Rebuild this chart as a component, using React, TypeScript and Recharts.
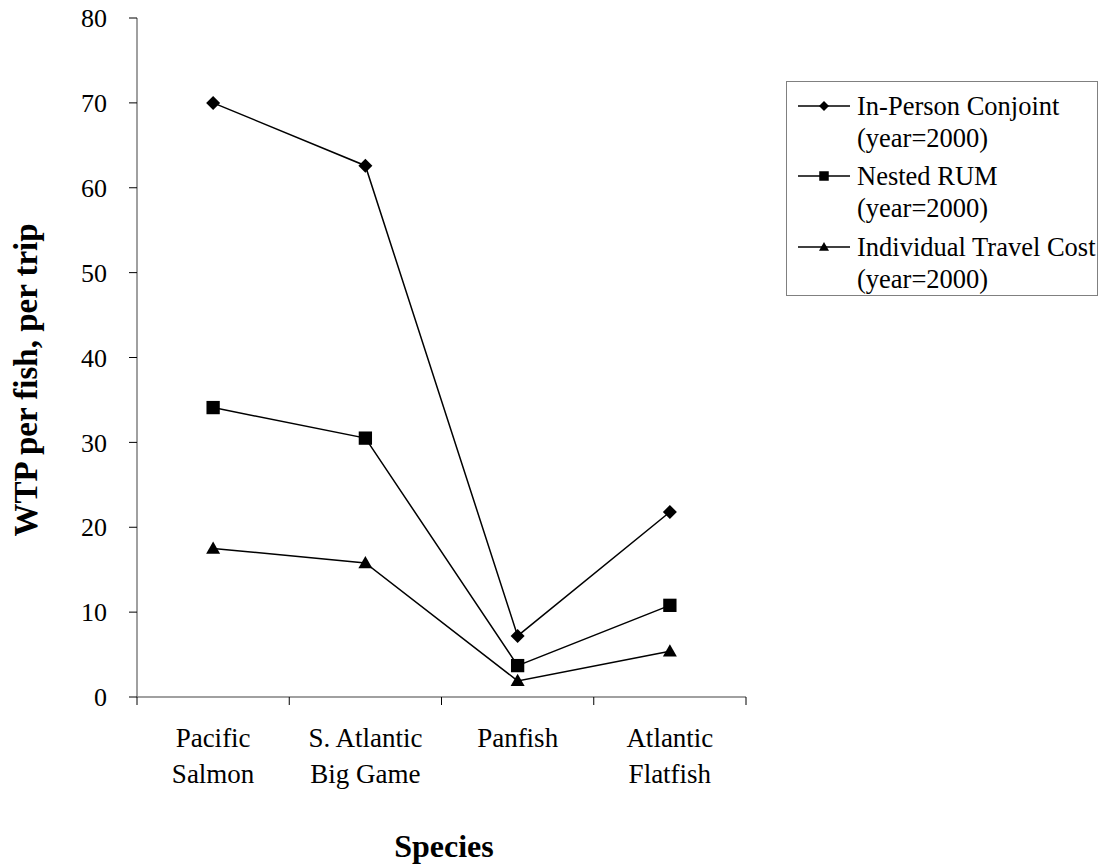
import React from 'react';
import { LineChart, Line, XAxis, YAxis, Legend } from 'recharts';

const categories = ['Pacific\nSalmon', 'S. Atlantic\nBig Game', 'Panfish', 'Atlantic\nFlatfish'];
const inPerson = [70.0, 62.6, 7.2, 21.8];
const nestedRum = [34.1, 30.5, 3.7, 10.8];
const travelCost = [17.5, 15.8, 1.9, 5.4];
const yTicks = [0, 10, 20, 30, 40, 50, 60, 70, 80];
const xTicks = [0, 0.5, 1, 1.5, 2, 2.5, 3, 3.5, 4];

const seriesNames = ['In-Person Conjoint', 'Nested RUM', 'Individual Travel Cost'];
const seriesNotes = ['(year=2000)', '(year=2000)', '(year=2000)'];
const markers = ['diamond', 'square', 'triangle'];

const FONT = '"Liberation Serif", "Times New Roman", serif';

const chartData = categories.map((name, i) => ({
  x: i + 0.5,
  name,
  inPerson: inPerson[i],
  nestedRum: nestedRum[i],
  travelCost: travelCost[i],
}));

function markerShape(kind: string, cx: number, cy: number, r: number) {
  if (kind === 'diamond') {
    return <polygon points={`${cx},${cy - r} ${cx + r},${cy} ${cx},${cy + r} ${cx - r},${cy}`} fill="#000" />;
  }
  if (kind === 'square') {
    return <rect x={cx - r * 0.95} y={cy - r * 0.95} width={r * 1.9} height={r * 1.9} fill="#000" />;
  }
  return <polygon points={`${cx},${cy - r} ${cx + r},${cy + r * 0.75} ${cx - r},${cy + r * 0.75}`} fill="#000" />;
}

const makeDot = (kind: string) => (props: any) => {
  const { cx, cy, index } = props;
  return <g key={`${kind}-${index}`}>{markerShape(kind, cx, cy, 7)}</g>;
};

function XTick(props: any) {
  const { x, y, payload } = props;
  const v = payload.value;
  if (Number.isInteger(v)) {
    return <line x1={x} y1={y} x2={x} y2={y + 8} stroke="#000" strokeWidth={1} />;
  }
  const lines = categories[Math.floor(v)].split('\n');
  return (
    <text x={x} y={y + 50} textAnchor="middle" fontFamily={FONT} fontSize={27} fill="#000">
      {lines.map((l, i) => (
        <tspan key={i} x={x} dy={i === 0 ? 0 : 36}>
          {l}
        </tspan>
      ))}
    </text>
  );
}

function renderLegend() {
  const baselines = [32, 102, 173];
  return (
    <div
      style={{
        position: 'relative',
        width: 312,
        height: 215,
        boxSizing: 'border-box',
        border: '1px solid #808080',
        background: '#fff',
        fontFamily: FONT,
        fontSize: 26.5,
        color: '#000',
      }}
    >
      {seriesNames.map((name, i) => (
        <React.Fragment key={name}>
          <svg
            width={54}
            height={14}
            style={{ position: 'absolute', left: 11, top: baselines[i] - 15 }}
          >
            <line x1={0} y1={7} x2={52} y2={7} stroke="#000" strokeWidth={1.5} />
            {markerShape(markers[i], 26, 7, 5)}
          </svg>
          <div style={{ position: 'absolute', left: 70, top: baselines[i] - 23, lineHeight: '30px', whiteSpace: 'nowrap' }}>
            {name}
          </div>
          <div style={{ position: 'absolute', left: 70, top: baselines[i] + 9, lineHeight: '30px', whiteSpace: 'nowrap' }}>
            {seriesNotes[i]}
          </div>
        </React.Fragment>
      ))}
    </div>
  );
}

export default function App() {
  return (
    <div style={{ position: 'absolute', left: 0, top: 0, width: 1098, height: 867, background: '#fff' }}>
      <LineChart
        width={1098}
        height={867}
        data={chartData}
        margin={{ top: 18, right: 352, left: 0, bottom: 0 }}
      >
        <XAxis
          dataKey="x"
          type="number"
          domain={[0, 4]}
          ticks={xTicks}
          interval={0}
          height={170}
          axisLine={{ stroke: '#808080', strokeWidth: 1.5 }}
          tickLine={false}
          tickSize={0}
          tickMargin={0}
          tick={<XTick />}
          label={() => (
            <text
              x={444}
              y={857}
              textAnchor="middle"
              fontFamily={FONT}
              fontSize={32}
              fontWeight="bold"
              fill="#000"
            >
              Species
            </text>
          )}
        />
        <YAxis
          type="number"
          domain={[0, 80]}
          ticks={yTicks}
          interval={0}
          width={137}
          axisLine={{ stroke: '#808080', strokeWidth: 1.5 }}
          tickLine={{ stroke: '#000' }}
          tickSize={8}
          tickMargin={22}
          tick={{ fill: '#000', fontSize: 26, fontFamily: FONT }}
          label={() => (
            <text
              x={37}
              y={380}
              transform="rotate(-90, 37, 380)"
              textAnchor="middle"
              fontFamily={FONT}
              fontSize={33}
              fontWeight="bold"
              fill="#000"
            >
              WTP per fish, per trip
            </text>
          )}
        />
        <Legend
          layout="vertical"
          align="center"
          verticalAlign="middle"
          content={renderLegend}
          wrapperStyle={{ left: 786, top: 81, width: 312, height: 215 }}
        />
        <Line
          dataKey="inPerson"
          name={seriesNames[0]}
          type="linear"
          stroke="#000"
          strokeWidth={1.5}
          dot={makeDot('diamond')}
          activeDot={false}
          isAnimationActive={false}
        />
        <Line
          dataKey="nestedRum"
          name={seriesNames[1]}
          type="linear"
          stroke="#000"
          strokeWidth={1.5}
          dot={makeDot('square')}
          activeDot={false}
          isAnimationActive={false}
        />
        <Line
          dataKey="travelCost"
          name={seriesNames[2]}
          type="linear"
          stroke="#000"
          strokeWidth={1.5}
          dot={makeDot('triangle')}
          activeDot={false}
          isAnimationActive={false}
        />
      </LineChart>
    </div>
  );
}
